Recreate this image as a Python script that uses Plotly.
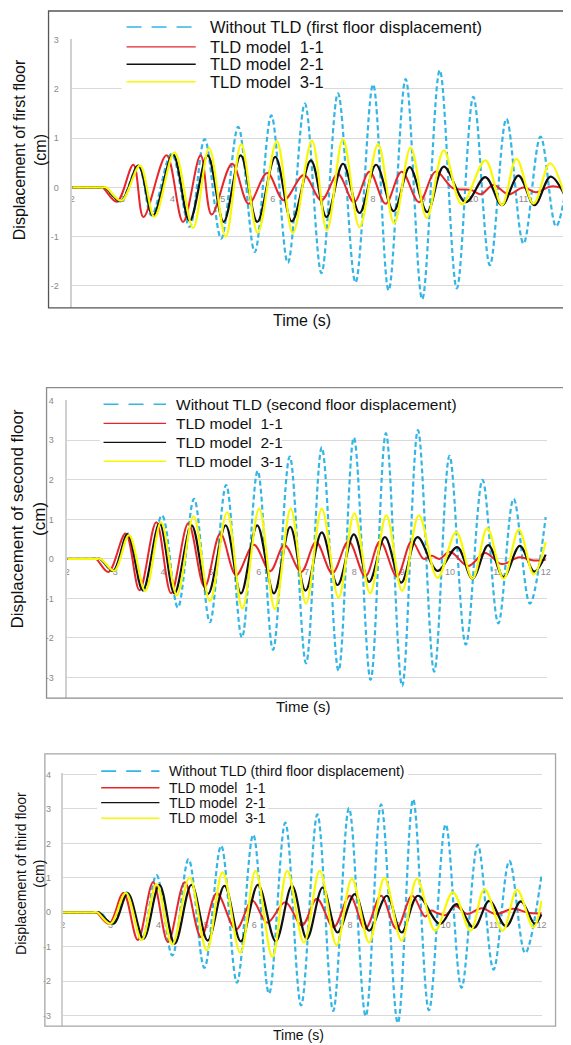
import plotly.graph_objects as go

W, H = 571, 1045
OFF = 8  # the page places the figure 8 px in from the top-left corner

# ---------------- data (time s, displacement cm) ----------------
# Panel 1 : first floor
P1_T_NO = [2.0, 2.57, 2.65, 2.95, 3.32, 3.58, 3.98, 4.34, 4.64, 4.97, 5.31, 5.64, 5.97, 6.30, 6.64, 6.97,
           7.30, 7.65, 8.00, 8.31, 8.65, 8.98, 9.33, 9.67, 10.00, 10.33, 10.66, 11.00, 11.34, 11.65, 11.98]
P1_V_NO = [0, 0, 0, -0.29, 0.44, -0.57, 0.68, -0.80, 0.98, -1.04, 1.23, -1.31, 1.46, -1.53, 1.70, -1.74,
           1.91, -1.93, 2.09, -2.09, 2.20, -2.27, 2.38, -2.05, 1.84, -1.58, 1.39, -1.14, 1.03, -0.79, 0.90]
P1_T_11 = [2.0, 2.52, 2.60, 2.89, 3.22, 3.42, 3.88, 4.21, 4.56, 4.78, 5.19, 5.52, 5.89, 6.22, 6.62, 6.97,
           7.30, 7.62, 7.93, 8.25, 8.57, 8.92, 9.25, 9.60, 9.95, 10.15, 10.40, 10.70, 11.00, 11.25, 11.55, 11.90]
P1_V_11 = [0, 0, 0, -0.29, 0.46, -0.60, 0.65, -0.70, 0.65, -0.55, 0.48, -0.33, 0.29, -0.26, 0.25, -0.26,
           0.27, -0.30, 0.32, -0.33, 0.32, -0.30, 0.32, -0.02, -0.05, -0.14, 0.05, -0.14, 0.00, -0.10, 0.02, -0.05]
P1_T_21 = [2.0, 2.57, 2.65, 2.97, 3.32, 3.61, 4.01, 4.34, 4.70, 5.02, 5.36, 5.69, 6.05, 6.38, 6.76, 7.07,
           7.40, 7.73, 8.06, 8.41, 8.73, 9.08, 9.41, 9.85, 10.24, 10.57, 10.90, 11.22, 11.54, 11.85]
P1_V_21 = [0, 0, 0, -0.28, 0.44, -0.57, 0.67, -0.68, 0.65, -0.70, 0.65, -0.70, 0.62, -0.69, 0.55, -0.60,
           0.48, -0.52, 0.46, -0.48, 0.41, -0.50, 0.42, -0.30, 0.21, -0.36, 0.24, -0.36, 0.22, -0.22]
P1_T_31 = [2.0, 2.59, 2.67, 2.98, 3.35, 3.64, 4.04, 4.41, 4.73, 5.06, 5.37, 5.70, 6.08, 6.40, 6.78, 7.08,
           7.40, 7.73, 8.10, 8.42, 8.75, 9.07, 9.41, 9.77, 10.24, 10.57, 10.86, 11.20, 11.53, 11.85]
P1_V_31 = [0, 0, 0, -0.27, 0.44, -0.60, 0.71, -0.82, 0.80, -1.00, 0.88, -0.92, 0.94, -0.93, 0.95, -0.87,
           0.98, -0.81, 0.88, -0.73, 0.81, -0.62, 0.75, -0.34, 0.55, -0.36, 0.58, -0.33, 0.49, -0.27]

# Panel 2 : second floor
P2_T_NO = [2.0, 2.61, 2.69, 2.96, 3.27, 3.58, 3.98, 4.31, 4.65, 4.98, 5.32, 5.65, 5.98, 6.30, 6.65, 6.99,
           7.32, 7.67, 7.99, 8.34, 8.66, 9.00, 9.33, 9.67, 9.99, 10.33, 10.68, 11.01, 11.33, 11.67, 12.0]
P2_V_NO = [0, 0, 0, -0.31, 0.64, -0.81, 1.10, -1.23, 1.52, -1.60, 1.87, -1.99, 2.23, -2.30, 2.59, -2.64,
           2.82, -2.83, 3.07, -3.06, 3.18, -3.22, 3.26, -2.85, 2.61, -2.17, 2.00, -1.63, 1.52, -1.13, 1.06]
P2_T_11 = [2.0, 2.52, 2.60, 2.86, 3.22, 3.51, 3.86, 4.17, 4.53, 4.87, 5.20, 5.53, 5.90, 6.24, 6.54, 6.89,
           7.20, 7.54, 7.88, 8.23, 8.54, 8.89, 9.20, 9.45, 9.62, 9.78, 10.00, 10.38, 10.73, 11.08, 11.45, 11.75, 12.0]
P2_V_11 = [0, 0, 0, -0.33, 0.64, -0.79, 0.93, -0.87, 0.90, -0.71, 0.64, -0.41, 0.36, -0.31, 0.35, -0.33,
           0.43, -0.36, 0.45, -0.44, 0.45, -0.44, 0.45, 0.00, 0.08, 0.00, 0.18, -0.18, 0.15, -0.13, 0.04, -0.04, -0.02]
P2_T_21 = [2.0, 2.61, 2.69, 2.96, 3.26, 3.58, 3.93, 4.24, 4.60, 4.94, 5.31, 5.63, 5.97, 6.32, 6.66, 6.98,
           7.32, 7.65, 7.99, 8.31, 8.64, 8.98, 9.32, 9.74, 10.15, 10.47, 10.80, 11.12, 11.46, 11.76, 12.0]
P2_V_21 = [0, 0, 0, -0.30, 0.62, -0.79, 0.90, -0.87, 0.85, -0.89, 0.85, -0.87, 0.85, -0.87, 0.81, -0.80,
           0.67, -0.66, 0.62, -0.58, 0.55, -0.60, 0.55, -0.30, 0.30, -0.50, 0.35, -0.46, 0.33, -0.32, 0.11]
P2_T_31 = [2.0, 2.62, 2.70, 2.98, 3.29, 3.63, 3.96, 4.29, 4.64, 4.98, 5.34, 5.66, 6.01, 6.34, 6.67, 6.99,
           7.32, 7.67, 8.00, 8.33, 8.67, 9.00, 9.35, 9.74, 10.13, 10.47, 10.78, 11.12, 11.44, 11.75, 12.0]
P2_V_31 = [0, 0, 0, -0.30, 0.60, -0.81, 0.93, -0.92, 1.08, -1.07, 1.18, -1.25, 1.27, -1.27, 1.27, -1.13,
           1.27, -0.98, 1.15, -0.87, 1.10, -0.81, 1.10, -0.48, 0.68, -0.50, 0.78, -0.50, 0.74, -0.39, 0.43]

# Panel 3 : third floor
P3_T_NO = [2.0, 2.71, 2.79, 3.03, 3.34, 3.65, 3.96, 4.29, 4.63, 4.96, 5.31, 5.64, 5.98, 6.31, 6.65, 6.98,
           7.32, 7.65, 7.98, 8.33, 8.65, 9.00, 9.32, 9.65, 10.00, 10.33, 10.67, 11.00, 11.33, 11.66, 12.0]
P3_V_NO = [0, 0, 0, -0.34, 0.58, -0.80, 1.08, -1.25, 1.54, -1.61, 1.93, -2.04, 2.25, -2.36, 2.60, -2.70,
           2.84, -2.86, 3.02, -3.01, 3.13, -3.21, 3.28, -2.84, 2.55, -2.19, 1.96, -1.66, 1.49, -1.18, 1.06]
P3_T_11 = [2.0, 2.62, 2.70, 2.97, 3.27, 3.57, 3.89, 4.20, 4.55, 4.89, 5.22, 5.62, 5.96, 6.27, 6.65, 7.00,
           7.31, 7.66, 8.00, 8.32, 8.65, 8.97, 9.30, 9.57, 9.70, 9.82, 10.00, 10.20, 10.45, 10.75, 11.05, 11.40, 11.75, 12.0]
P3_V_11 = [0, 0, 0, -0.33, 0.56, -0.80, 0.87, -0.86, 0.87, -0.72, 0.55, -0.50, 0.34, -0.30, 0.29, -0.38,
           0.39, -0.43, 0.48, -0.48, 0.48, -0.48, 0.48, -0.12, 0.05, -0.02, -0.08, 0.18, -0.05, 0.12, -0.05, 0.10, -0.02, -0.03]
P3_T_21 = [2.0, 2.67, 2.75, 3.06, 3.36, 3.69, 4.02, 4.34, 4.69, 5.03, 5.38, 5.72, 6.08, 6.45, 6.79, 7.10,
           7.43, 7.74, 8.10, 8.40, 8.77, 9.08, 9.42, 9.88, 10.22, 10.59, 10.91, 11.26, 11.57, 11.86, 12.0]
P3_V_21 = [0, 0, 0, -0.33, 0.55, -0.77, 0.80, -0.91, 0.80, -0.82, 0.77, -0.84, 0.80, -0.84, 0.77, -0.77,
           0.72, -0.58, 0.53, -0.53, 0.48, -0.58, 0.48, -0.34, 0.24, -0.45, 0.33, -0.41, 0.32, -0.33, -0.06]
P3_T_31 = [2.0, 2.64, 2.72, 3.00, 3.32, 3.65, 3.96, 4.29, 4.65, 5.01, 5.34, 5.71, 6.03, 6.38, 6.69, 7.04,
           7.37, 7.72, 8.04, 8.40, 8.72, 9.08, 9.40, 9.78, 10.15, 10.52, 10.81, 11.19, 11.49, 11.83, 12.0]
P3_V_31 = [0, 0, 0, -0.33, 0.56, -0.80, 0.82, -0.93, 1.01, -1.10, 1.16, -1.18, 1.20, -1.30, 1.20, -0.88,
           1.20, -0.95, 0.97, -0.87, 1.00, -0.82, 0.97, -0.53, 0.58, -0.53, 0.67, -0.53, 0.65, -0.44, 0.33]

SERIES_NAMES_P1 = ["Without TLD (first floor displacement)", "TLD model\u00a0 1-1", "TLD model\u00a0 2-1", "TLD model\u00a0 3-1"]
SERIES_NAMES_P2 = ["Without TLD (second floor displacement)", "TLD model\u00a0 1-1", "TLD model\u00a0 2-1", "TLD model\u00a0 3-1"]
SERIES_NAMES_P3 = ["Without TLD (third floor displacement)", "TLD model\u00a0 1-1", "TLD model\u00a0 2-1", "TLD model\u00a0 3-1"]
Y_TITLES = ["Displacement of first floor<br>(cm)", "Displacement of second floor<br>(cm)",
            "Displacement of third floor<br>(cm)"]
X_TITLE = "Time (s)"
X_TICKS = [2, 3, 4, 5, 6, 7, 8, 9, 10, 11, 12]
Y_TICKS_P1 = [-2, -1, 0, 1, 2, 3]
Y_TICKS_P23 = [-3, -2, -1, 0, 1, 2, 3, 4]

# ---------------- styling / layout (pixel geometry of the reference) ----------------
FONT = "Arial, Liberation Sans, sans-serif"
LINE_STYLES = [
    dict(color="#33b5e5", width=2.2, dash="5px,3px"),
    dict(color="#e8262a", width=2.0, dash="solid"),
    dict(color="#111111", width=2.2, dash="solid"),
    dict(color="#f8f800", width=2.2, dash="solid"),
]
LEGEND_STYLES = [
    dict(color="#33b5e5", width=1.6, dash="15px,10px"),
    dict(color="#e8262a", width=1.4, dash="solid"),
    dict(color="#111111", width=1.4, dash="solid"),
    dict(color="#f8f800", width=1.6, dash="solid"),
]

PANELS = [
    dict(data=[(P1_T_NO, P1_V_NO), (P1_T_11, P1_V_11), (P1_T_21, P1_V_21), (P1_T_31, P1_V_31)],
         names=SERIES_NAMES_P1, ytitle=Y_TITLES[0], yticks=Y_TICKS_P1,
         xl=70, xr=571, yt=34.7, yb=305, xrange=[2, 11.87], yrange=[-2.445, 3.02],
         frame=(46, 7, 590, 305), framecolor="#555555",
         rows=[23, 43, 60.5, 78], lx=(125, 195), tx=207, lfont=16.5,
         boxes=[(120, 33, 325, 88)],
         yt_pos=(27.5, 146.5, 16), xt_pos=(303, 318, 16), ystand=10, xstand=5),
    dict(data=[(P2_T_NO, P2_V_NO), (P2_T_11, P2_V_11), (P2_T_21, P2_V_21), (P2_T_31, P2_V_31)],
         names=SERIES_NAMES_P2, ytitle=Y_TITLES[1], yticks=Y_TICKS_P23,
         xl=65, xr=551, yt=397.3, yb=696.7, xrange=[2, 12.035], yrange=[-3.52, 4.025],
         frame=(44, 385, 569.3, 696.7), framecolor="#8c8c8c",
         rows=[401.7, 421, 440, 459], lx=(101.7, 165), tx=173.3, lfont=15.5,
         boxes=[(98, 390, 450, 410), (98, 410, 282, 466)],
         yt_pos=(26, 516.7, 17), xt_pos=(304, 705, 15), ystand=10, xstand=6),
    dict(data=[(P3_T_NO, P3_V_NO), (P3_T_11, P3_V_11), (P3_T_21, P3_V_21), (P3_T_31, P3_V_31)],
         names=SERIES_NAMES_P3, ytitle=Y_TITLES[2], yticks=Y_TICKS_P23,
         xl=60.3, xr=546, yt=772.3, yb=1026, xrange=[2, 12.02], yrange=[-3.30, 4.03],
         frame=(42.3, 752.7, 559.3, 1026), framecolor="#a6a6a6",
         rows=[770, 786.7, 801.7, 817.3], lx=(99.3, 158.3), tx=166, lfont=14,
         boxes=[(95, 765, 410, 780), (95, 780, 268, 824)],
         yt_pos=(27, 872.5, 14), xt_pos=(298.7, 1035, 14), ystand=8, xstand=6),
]


def pxx(x):
    return (x - OFF) / W


def pxy(y):
    return 1 - (y - OFF) / H


fig = go.Figure()
shapes, annotations = [], []
layout = dict(width=W, height=H, margin=dict(l=0, r=0, t=0, b=0),
              paper_bgcolor="white", plot_bgcolor="white", showlegend=False,
              font=dict(family=FONT, color="#111111"))

for i, p in enumerate(PANELS):
    n = "" if i == 0 else str(i + 1)
    xa, ya = "x" + n, "y" + n
    for (t, v), name, st in zip(p["data"], p["names"], LINE_STYLES):
        fig.add_trace(go.Scatter(x=t, y=v, name=name, mode="lines", xaxis=xa, yaxis=ya,
                                 line=dict(color=st["color"], width=st["width"], dash=st["dash"],
                                           shape="spline", smoothing=1.0),
                                 hoverinfo="skip"))
    xmin, xmax = p["xrange"]
    ymin, ymax = p["yrange"]
    w = p["xr"] - p["xl"]
    h = p["yb"] - p["yt"]

    def dx(px_, p=p, xmin=xmin, xmax=xmax, w=w):
        return xmin + (px_ - p["xl"]) / w * (xmax - xmin)

    def dy(py_, p=p, ymin=ymin, ymax=ymax, h=h):
        return ymin + (p["yb"] - py_) / h * (ymax - ymin)

    zero_py = p["yb"] - (0 - ymin) / (ymax - ymin) * h
    layout["xaxis" + n] = dict(domain=[pxx(p["xl"]), min(1.0, pxx(p["xr"]))], range=p["xrange"],
                               anchor="free", position=pxy(zero_py),
                               tickvals=X_TICKS, ticktext=[str(k) for k in X_TICKS],
                               showgrid=False, zeroline=False, showline=False, ticks="",
                               ticklabelstandoff=p["xstand"], layer="below traces",
                               tickfont=dict(size=9, color="#8a8a8a", family=FONT))
    layout["yaxis" + n] = dict(domain=[pxy(p["yb"]), pxy(p["yt"])], range=p["yrange"],
                               anchor=xa, tickvals=p["yticks"], ticktext=[str(k) for k in p["yticks"]],
                               showgrid=True, gridcolor="#d9d9d9", gridwidth=1.3,
                               zeroline=False, showline=True, linecolor="#d0d0d0", linewidth=1.5,
                               ticks="", ticklabelstandoff=p["ystand"],
                               tickfont=dict(size=9, color="#8a8a8a", family=FONT))
    # chart-area frame
    fx0, fy0, fx1, fy1 = p["frame"]
    shapes.append(dict(type="rect", xref="paper", yref="paper", x0=pxx(fx0), x1=pxx(fx1),
                       y0=pxy(fy1), y1=pxy(fy0), line=dict(color=p["framecolor"], width=1.3),
                       fillcolor="rgba(0,0,0,0)", layer="above"))
    # white legend backgrounds (hide the gridlines behind the legend, stay under the curves)
    for (bx0, by0, bx1, by1) in p["boxes"]:
        shapes.append(dict(type="rect", xref=xa, yref=ya,
                           x0=dx(bx0), x1=dx(bx1), y0=dy(by1), y1=dy(by0),
                           line=dict(width=0), fillcolor="white", layer="between"))
    # legend
    for ry, name, st in zip(p["rows"], p["names"], LEGEND_STYLES):
        shapes.append(dict(type="line", xref="paper", yref="paper",
                           x0=pxx(p["lx"][0]), x1=pxx(p["lx"][1]), y0=pxy(ry), y1=pxy(ry),
                           line=dict(color=st["color"], width=st["width"], dash=st["dash"]),
                           layer="above"))
        annotations.append(dict(xref="paper", yref="paper", x=pxx(p["tx"]), y=pxy(ry),
                                xanchor="left", yanchor="middle", text=name, showarrow=False,
                                font=dict(size=p["lfont"], color="#111111", family=FONT)))
    # axis titles
    tx, ty, ts = p["yt_pos"]
    annotations.append(dict(xref="paper", yref="paper", x=pxx(tx), y=pxy(ty), xanchor="center",
                            yanchor="middle", text=p["ytitle"], textangle=-90, showarrow=False,
                            font=dict(size=ts, color="#111111", family=FONT)))
    tx, ty, ts = p["xt_pos"]
    annotations.append(dict(xref="paper", yref="paper", x=pxx(tx), y=pxy(ty), xanchor="center",
                            yanchor="middle", text=X_TITLE, showarrow=False,
                            font=dict(size=ts, color="#111111", family=FONT)))

layout["shapes"] = shapes
layout["annotations"] = annotations
fig.update_layout(**layout)
fig.write_html("out.html")
